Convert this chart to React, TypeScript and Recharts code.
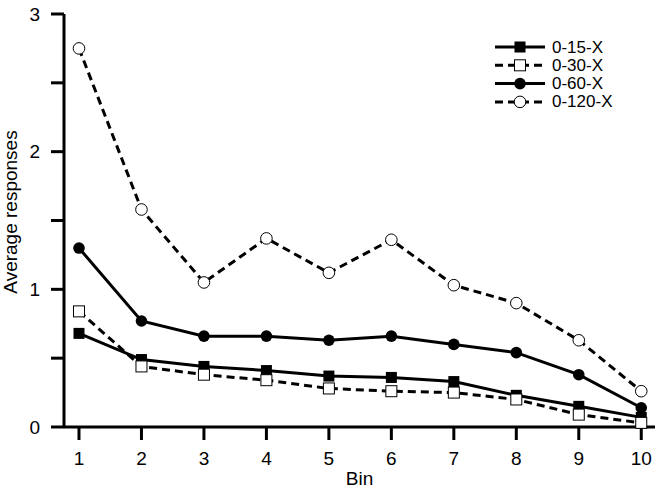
import React from "react";
import { Legend, Line, LineChart, XAxis, YAxis } from "recharts";

const bins = [1, 2, 3, 4, 5, 6, 7, 8, 9, 10];
const yTicks = [0, 0.5, 1, 1.5, 2, 2.5, 3];

const s15 = [0.68, 0.49, 0.44, 0.41, 0.37, 0.36, 0.33, 0.23, 0.15, 0.07];
const s30 = [0.84, 0.44, 0.38, 0.34, 0.28, 0.26, 0.25, 0.2, 0.09, 0.03];
const s60 = [1.3, 0.77, 0.66, 0.66, 0.63, 0.66, 0.6, 0.54, 0.38, 0.14];
const s120 = [2.75, 1.58, 1.05, 1.37, 1.12, 1.36, 1.03, 0.9, 0.63, 0.26];

const data = bins.map((b, i) => ({
  bin: b,
  a: s15[i],
  b: s30[i],
  c: s60[i],
  d: s120[i],
}));

const font = "'Liberation Sans', Arial, sans-serif";
const DASH = "8 5";

const series = [
  { key: "a", name: "0-15-X", kind: "sq-fill", dash: undefined },
  { key: "b", name: "0-30-X", kind: "sq-open", dash: DASH },
  { key: "c", name: "0-60-X", kind: "ci-fill", dash: undefined },
  { key: "d", name: "0-120-X", kind: "ci-open", dash: DASH },
];

function Marker({ cx, cy, kind }: { cx: number; cy: number; kind: string }) {
  if (cx == null || cy == null) return null;
  if (kind === "sq-fill")
    return <rect x={cx - 5.5} y={cy - 5.5} width={11} height={11} fill="#000" />;
  if (kind === "sq-open")
    return (
      <rect x={cx - 5.5} y={cy - 5.5} width={11} height={11} fill="#fff" stroke="#000" strokeWidth={1} />
    );
  if (kind === "ci-fill") return <circle cx={cx} cy={cy} r={5.8} fill="#000" />;
  return <circle cx={cx} cy={cy} r={5.8} fill="#fff" stroke="#000" strokeWidth={1} />;
}

const renderLegend = (props: any) => {
  const payload = [...(props.payload || [])].sort(
    (p: any, q: any) =>
      series.findIndex((s) => s.name === p.value) - series.findIndex((s) => s.name === q.value)
  );
  return (
    <svg width={170} height={80}>
      {payload.map((e: any, i: number) => {
        const cfg = series.find((s) => s.name === e.value);
        const y = 9 + i * 18.3;
        return (
          <g key={e.value}>
            <line x1={2} x2={52} y1={y} y2={y} stroke="#000" strokeWidth={3} strokeDasharray={cfg?.dash} />
            <Marker cx={27} cy={y} kind={cfg ? cfg.kind : ""} />
            <text x={59} y={y} dominantBaseline="central" fontSize={17} fontFamily={font} fill="#000">
              {e.value}
            </text>
          </g>
        );
      })}
    </svg>
  );
};

export default function App() {
  return (
    <div style={{ position: "absolute", left: 0, top: 0, width: 664, height: 497, background: "#fff" }}>
      <LineChart width={664} height={497} data={data} margin={{ top: 14, right: 9, left: 0, bottom: 0 }}>
        <XAxis
          dataKey="bin"
          type="number"
          domain={[0.76, 10.22]}
          ticks={bins}
          allowDataOverflow
          height={70}
          axisLine={{ stroke: "#000", strokeWidth: 3 }}
          tickLine={{ stroke: "#000", strokeWidth: 3 }}
          tickSize={13}
          tickMargin={12}
          tick={{ fill: "#000", fontSize: 19, fontFamily: font }}
          label={{ value: "Bin", position: "insideBottom", offset: 12, fill: "#000", fontSize: 19, fontFamily: font }}
        />
        <YAxis
          type="number"
          domain={[0, 3]}
          ticks={yTicks}
          width={64}
          axisLine={{ stroke: "#000", strokeWidth: 3 }}
          tickLine={{ stroke: "#000", strokeWidth: 3 }}
          tickSize={13}
          tickMargin={11}
          tick={{ fill: "#000", fontSize: 19, fontFamily: font }}
          tickFormatter={(v: number) => (Number.isInteger(v) ? String(v) : "")}
          label={{
            content: () => (
              <text
                transform="translate(17,212) rotate(-90)"
                textAnchor="middle"
                fontSize={19}
                fontFamily={font}
                fill="#000"
              >
                Average responses
              </text>
            ),
          }}
        />
        <Legend
          layout="vertical"
          align="center"
          verticalAlign="middle"
          wrapperStyle={{ top: 38, left: 493, width: 170 }}
          content={renderLegend}
        />
        {series.map((s) => (
          <Line
            key={s.key}
            dataKey={s.key}
            name={s.name}
            stroke="#000"
            strokeWidth={3}
            strokeDasharray={s.dash}
            isAnimationActive={false}
            dot={(p: any) => <Marker key={`${s.key}-${p.index}`} cx={p.cx} cy={p.cy} kind={s.kind} />}
            activeDot={false}
          />
        ))}
      </LineChart>
    </div>
  );
}
